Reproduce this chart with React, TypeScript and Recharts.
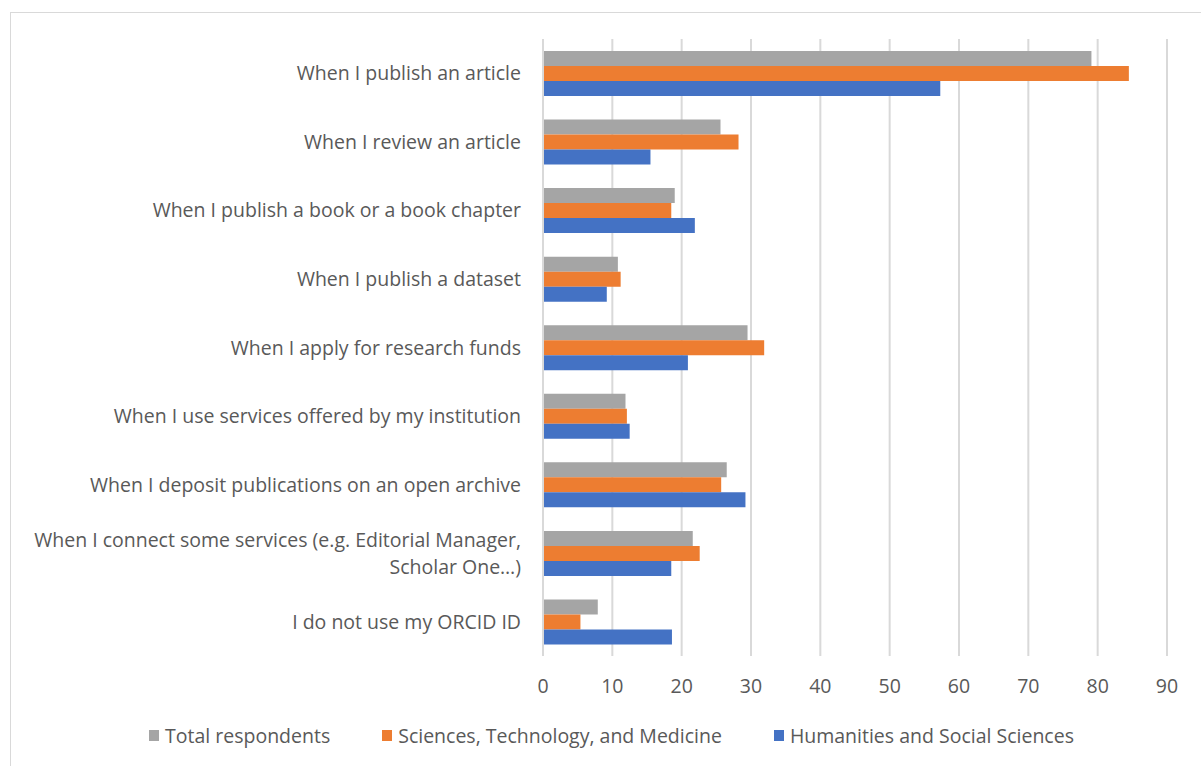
import React from "react";
import { BarChart, Bar, XAxis, YAxis, CartesianGrid, Legend } from "recharts";

const categories = [
  "When I publish an article",
  "When I review an article",
  "When I publish a book or a book chapter",
  "When I publish a dataset",
  "When I apply for research funds",
  "When I use services offered by my institution",
  "When I deposit publications on an open archive",
  "When I connect some services (e.g. Editorial Manager,\nScholar One…)",
  "I do not use my ORCID ID",
];

const totalRespondents = [79.1, 25.6, 19.0, 10.8, 29.5, 11.9, 26.5, 21.6, 7.9];
const stmValues = [84.5, 28.2, 18.5, 11.2, 31.9, 12.1, 25.7, 22.6, 5.4];
const hssValues = [57.3, 15.5, 21.9, 9.2, 20.9, 12.5, 29.2, 18.5, 18.6];

const xTicks = [0, 10, 20, 30, 40, 50, 60, 70, 80, 90];

const series = [
  { key: "total", name: "Total respondents", color: "#A5A5A5" },
  { key: "stm", name: "Sciences, Technology, and Medicine", color: "#ED7D31" },
  { key: "hss", name: "Humanities and Social Sciences", color: "#4472C4" },
];

const data = categories.map((c, i) => ({
  category: c,
  total: totalRespondents[i],
  stm: stmValues[i],
  hss: hssValues[i],
}));

const FONT = "'Open Sans', 'Noto Sans', sans-serif";
const TEXT = "#595959";
const FS = 19.5;

const CategoryTick = (props: any) => {
  const { x, y, payload } = props;
  const lines: string[] = String(payload.value).split("\n");
  const lh = 27;
  const start = -((lines.length - 1) * lh) / 2;
  return (
    <text x={x - 20} y={y} textAnchor="end" fill={TEXT} fontSize={FS} fontFamily={FONT}>
      {lines.map((l, i) => (
        <tspan key={i} x={x - 20} dy={i === 0 ? start + 7 : lh}>
          {l}
        </tspan>
      ))}
    </text>
  );
};

const LegendContent = () => (
  <div
    style={{
      display: "flex",
      justifyContent: "center",
      gap: 52,
      paddingLeft: 22,
      fontFamily: FONT,
      fontSize: FS,
      color: TEXT,
    }}
  >
    {series.map((s) => (
      <div key={s.key} style={{ display: "flex", alignItems: "center" }}>
        <span style={{ display: "inline-block", width: 10, height: 11, background: s.color, marginRight: 6 }} />
        <span>{s.name}</span>
      </div>
    ))}
  </div>
);

export default function App() {
  return (
    <div style={{ position: "absolute", left: 0, top: 0, width: 1201, height: 766, background: "#fff", fontFamily: FONT }}>
      <div
        style={{
          position: "absolute",
          left: 10,
          top: 12,
          width: 1200,
          height: 760,
          border: "1.5px solid #d9d9d9",
          boxSizing: "border-box",
        }}
      />
      <BarChart
        width={1201}
        height={766}
        data={data}
        layout="vertical"
        margin={{ top: 39, right: 34, left: 0, bottom: 0 }}
        barSize={15}
        barGap={0}
        style={{ position: "absolute", left: 0, top: 0 }}
      >
        <CartesianGrid horizontal={false} stroke="#d9d9d9" strokeWidth={2} />
        <XAxis
          type="number"
          domain={[0, 90]}
          ticks={xTicks}
          axisLine={false}
          tickLine={false}
          tickMargin={17}
          height={83}
          tick={{ fill: TEXT, fontSize: FS, fontFamily: FONT }}
        />
        <YAxis
          type="category"
          dataKey="category"
          width={543}
          axisLine={{ stroke: "#d9d9d9", strokeWidth: 2 }}
          tickLine={false}
          tickSize={0}
          tick={<CategoryTick />}
          interval={0}
        />
        <Legend content={<LegendContent />} wrapperStyle={{ left: 0, width: 1201, top: 722 }} />
        {series.map((s) => (
          <Bar key={s.key} dataKey={s.key} name={s.name} fill={s.color} isAnimationActive={false} />
        ))}
      </BarChart>
    </div>
  );
}
